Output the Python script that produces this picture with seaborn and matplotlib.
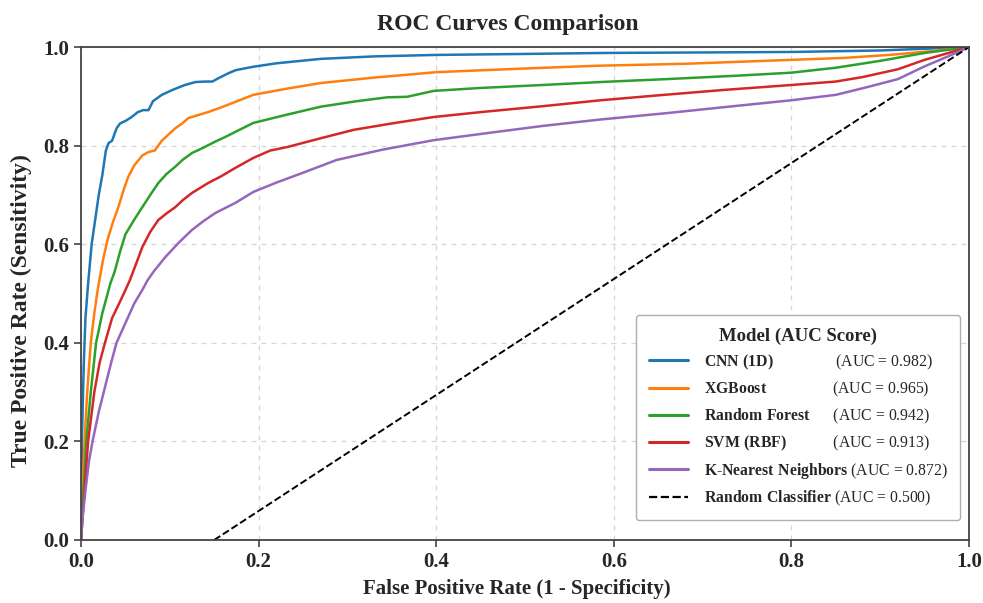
import seaborn as sns
import matplotlib.pyplot as plt
import pandas as pd
from matplotlib.lines import Line2D

# ROC points
cnn_fpr = [0, 0.001, 0.003, 0.005, 0.008, 0.012, 0.016, 0.020, 0.024, 0.028, 0.031, 0.035,
           0.040, 0.044, 0.050, 0.057, 0.064, 0.070, 0.076, 0.081, 0.091, 0.103, 0.117, 0.129,
           0.140, 0.148, 0.155, 0.165, 0.174, 0.194, 0.22, 0.27, 0.33, 0.40, 0.50, 0.59, 0.70,
           0.80, 0.90, 1.0]
cnn_tpr = [0, 0.20, 0.35, 0.45, 0.52, 0.60, 0.65, 0.70, 0.74, 0.79, 0.805, 0.81,
           0.835, 0.845, 0.85, 0.858, 0.868, 0.872, 0.872, 0.89, 0.903, 0.913, 0.923, 0.929,
           0.93, 0.93, 0.937, 0.946, 0.953, 0.96, 0.967, 0.976, 0.981, 0.984, 0.986, 0.988, 0.989,
           0.99, 0.993, 1.0]

xgb_fpr = [0, 0.002, 0.004, 0.007, 0.011, 0.015, 0.019, 0.021, 0.025, 0.030, 0.036, 0.042,
           0.048, 0.053, 0.060, 0.069, 0.076, 0.083, 0.091, 0.100, 0.106, 0.114, 0.121, 0.132,
           0.143, 0.157, 0.170, 0.194, 0.23, 0.27, 0.33, 0.40, 0.48, 0.58, 0.68, 0.80, 0.86,
           0.91, 0.96, 1.0]
xgb_tpr = [0, 0.10, 0.20, 0.30, 0.40, 0.46, 0.51, 0.53, 0.57, 0.61, 0.645, 0.675,
           0.71, 0.736, 0.76, 0.78, 0.787, 0.79, 0.81, 0.825, 0.835, 0.845, 0.856, 0.862,
           0.868, 0.877, 0.886, 0.903, 0.915, 0.927, 0.938, 0.949, 0.955, 0.962, 0.966, 0.974, 0.978,
           0.984, 0.992, 1.0]

rf_fpr = [0, 0.003, 0.006, 0.011, 0.017, 0.024, 0.030, 0.033, 0.038, 0.044, 0.050, 0.060,
          0.069, 0.078, 0.087, 0.096, 0.106, 0.115, 0.125, 0.138, 0.151, 0.163, 0.174, 0.194,
          0.23, 0.27, 0.31, 0.345, 0.367, 0.397, 0.45, 0.52, 0.585, 0.66, 0.74, 0.80, 0.85,
          0.90, 0.95, 1.0]
rf_tpr = [0, 0.10, 0.20, 0.30, 0.40, 0.46, 0.50, 0.52, 0.545, 0.585, 0.62, 0.65,
          0.675, 0.70, 0.724, 0.742, 0.757, 0.772, 0.785, 0.796, 0.808, 0.818, 0.828, 0.846,
          0.862, 0.879, 0.89, 0.898, 0.899, 0.911, 0.917, 0.923, 0.929, 0.935, 0.942, 0.948, 0.958,
          0.972, 0.988, 1.0]

svm_fpr = [0, 0.004, 0.008, 0.015, 0.021, 0.027, 0.035, 0.043, 0.050, 0.055, 0.062, 0.069,
           0.078, 0.087, 0.096, 0.106, 0.115, 0.125, 0.134, 0.143, 0.157, 0.174, 0.194, 0.213,
           0.232, 0.27, 0.307, 0.35, 0.397, 0.45, 0.52, 0.585, 0.65, 0.724, 0.80, 0.85, 0.88,
           0.92, 0.95, 1.0]
svm_tpr = [0, 0.10, 0.20, 0.30, 0.36, 0.40, 0.45, 0.48, 0.507, 0.527, 0.56, 0.594,
           0.625, 0.649, 0.662, 0.675, 0.69, 0.704, 0.714, 0.724, 0.737, 0.755, 0.775, 0.79,
           0.797, 0.815, 0.832, 0.845, 0.858, 0.868, 0.88, 0.892, 0.902, 0.913, 0.923, 0.93, 0.939,
           0.955, 0.974, 1.0]

knn_fpr = [0, 0.002, 0.005, 0.009, 0.013, 0.020, 0.027, 0.034, 0.040, 0.050, 0.060, 0.069,
           0.075, 0.082, 0.095, 0.110, 0.125, 0.138, 0.151, 0.163, 0.174, 0.194, 0.22, 0.25,
           0.288, 0.34, 0.397, 0.46, 0.52, 0.585, 0.66, 0.74, 0.80, 0.85, 0.886, 0.92, 0.949,
           0.975, 1.0]
knn_tpr = [0, 0.05, 0.10, 0.16, 0.20, 0.26, 0.31, 0.36, 0.40, 0.44, 0.48, 0.507,
           0.527, 0.545, 0.574, 0.603, 0.629, 0.647, 0.663, 0.674, 0.684, 0.706, 0.725, 0.745,
           0.771, 0.792, 0.811, 0.826, 0.84, 0.853, 0.866, 0.881, 0.892, 0.903, 0.919, 0.935, 0.96,
           0.98, 1.0]

random_fpr = [0.15, 1.0]
random_tpr = [0.0, 1.0]

models = ["CNN (1D)", "XGBoost", "Random Forest", "SVM (RBF)", "K-Nearest Neighbors"]
auc_scores = [0.982, 0.965, 0.942, 0.913, 0.872]
random_name = "Random Classifier"
random_auc = 0.500
colors = ["#1f77b4", "#ff7f0e", "#2ca02c", "#d62728", "#9467bd"]

curves = [(cnn_fpr, cnn_tpr), (xgb_fpr, xgb_tpr), (rf_fpr, rf_tpr),
          (svm_fpr, svm_tpr), (knn_fpr, knn_tpr)]

# long-form frame for seaborn
rows = []
for name, (fpr, tpr) in zip(models, curves):
    for f, t in zip(fpr, tpr):
        rows.append({"model": name, "fpr": f, "tpr": t})
df = pd.DataFrame(rows)

sns.set_theme(style="ticks")
plt.rcParams["font.family"] = ["Liberation Serif", "DejaVu Serif"]
plt.rcParams["font.weight"] = "bold"
plt.rcParams["mathtext.fontset"] = "custom"
plt.rcParams["mathtext.rm"] = "Liberation Serif"
plt.rcParams["mathtext.bf"] = "Liberation Serif:bold"

fig, ax = plt.subplots(figsize=(9.83, 6.03), dpi=100)
fig.subplots_adjust(left=0.0824, right=0.9858, top=0.922, bottom=0.1045)

sns.lineplot(data=df, x="fpr", y="tpr", hue="model", hue_order=models,
             palette=dict(zip(models, colors)), estimator=None, sort=False,
             linewidth=1.8, legend=False, ax=ax)
sns.lineplot(x=random_fpr, y=random_tpr, color="black", linestyle="--",
             linewidth=1.4, ax=ax)

ax.set_xlim(0, 1)
ax.set_ylim(0, 1)
ax.set_xticks([0, 0.2, 0.4, 0.6, 0.8, 1.0])
ax.set_yticks([0, 0.2, 0.4, 0.6, 0.8, 1.0])
ax.xaxis.set_major_formatter(plt.FormatStrFormatter("%.1f"))
ax.yaxis.set_major_formatter(plt.FormatStrFormatter("%.1f"))
ax.tick_params(labelsize=15, width=1.2, length=5, color="#444444")
ax.grid(True, linestyle=(0, (4, 4)), linewidth=0.9, color="#cccccc", alpha=0.8)
for s in ax.spines.values():
    s.set_visible(True)
    s.set_color("#444444")
    s.set_linewidth(1.3)

ax.set_xlabel("False Positive Rate (1 - Specificity)", fontsize=15, fontweight="bold")
ax.set_ylabel("True Positive Rate (Sensitivity)", fontsize=17, fontweight="bold")
ax.xaxis.set_label_coords(0.491, -0.080)
ax.yaxis.set_label_coords(-0.055, 0.465)
ax.set_title("ROC Curves Comparison", fontsize=17, fontweight="bold", pad=12, x=0.481)

# legend labels: bold model name, then the AUC part in a rough column
LEG_FS = 11.3
renderer = fig.canvas.get_renderer()


def text_width(s):
    t = fig.text(0, 0, s, fontsize=LEG_FS, fontweight="normal")
    w = t.get_window_extent(renderer=renderer).width
    t.remove()
    return w


def bold_tex(name):
    return "$\\mathbf{" + name.replace(" ", "\\;").replace("-", "}$-$\\mathbf{") + "}$"


names = models + [random_name]
scores = auc_scores + [random_auc]
target = text_width(bold_tex(random_name) + " ")
labels = []
for name, auc in zip(names, scores):
    pre = bold_tex(name) + " "
    while text_width(pre + " ") <= target + 2:
        pre += " "
    labels.append(pre + f"(AUC = {auc:.3f})")

handles = [Line2D([], [], color=c, linewidth=2.2) for c in colors]
handles.append(Line2D([], [], color="black", linestyle="--", linewidth=1.6))
leg = ax.legend(handles, labels, loc="lower right", bbox_to_anchor=(0.99, 0.04),
                borderaxespad=0, prop={"size": LEG_FS, "weight": "normal"},
                title="Model (AUC Score)", title_fontproperties={"size": 13.5, "weight": "bold"},
                handlelength=2.5, handletextpad=1.0, labelspacing=0.5, borderpad=0.8,
                fancybox=True, framealpha=0.95, edgecolor="#aaaaaa")

plt.savefig("out.png", dpi=100)
plt.close()
